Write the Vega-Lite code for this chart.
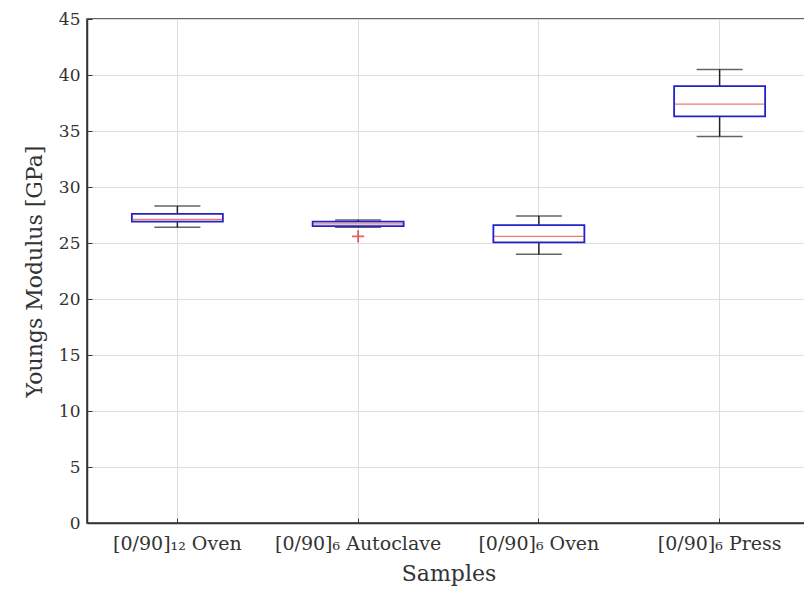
{
  "$schema": "https://vega.github.io/schema/vega-lite/v6.json",
  "autosize": "none",
  "padding": {"left": 87, "top": 19, "right": 0, "bottom": 77},
  "width": 723,
  "height": 504,
  "background": "white",
  "config": {
    "font": "DejaVu Serif",
    "view": {"stroke": "#333333", "strokeWidth": 1.5},
    "axis": {
      "labelFont": "DejaVu Serif",
      "titleFont": "DejaVu Serif",
      "labelFontSize": 17,
      "titleFontSize": 22,
      "labelColor": "#333333",
      "titleColor": "#333333",
      "titleFontWeight": "normal",
      "gridColor": "#dddddd",
      "gridWidth": 1,
      "domainColor": "#333333",
      "domainWidth": 1.5,
      "tickColor": "#333333",
      "tickSize": -5
    }
  },
  "datasets": {
    "boxes": [
      {"sample": "[0/90]₁₂ Oven", "lower": 26.4, "q1": 26.9, "median": 27.1, "q3": 27.6, "upper": 28.3},
      {"sample": "[0/90]₆ Autoclave", "lower": 26.4, "q1": 26.5, "median": 26.7, "q3": 26.9, "upper": 27.05},
      {"sample": "[0/90]₆ Oven", "lower": 24.0, "q1": 25.05, "median": 25.6, "q3": 26.6, "upper": 27.4},
      {"sample": "[0/90]₆ Press", "lower": 34.5, "q1": 36.3, "median": 37.4, "q3": 39.0, "upper": 40.5}
    ],
    "outliers": [
      {"sample": "[0/90]₆ Autoclave", "value": 25.6}
    ]
  },
  "data": {"name": "boxes"},
  "encoding": {
    "x": {
      "field": "sample",
      "type": "nominal",
      "sort": null,
      "title": "Samples",
      "scale": {"paddingInner": 0, "paddingOuter": 0},
      "axis": {"labelAngle": 0, "grid": true, "labelPadding": 16, "labelFontSize": 19, "titlePadding": 10}
    }
  },
  "layer": [
    {
      "mark": {"type": "rule", "color": "#222222", "strokeWidth": 1.5},
      "encoding": {
        "y": {
          "field": "lower",
          "type": "quantitative",
          "title": "Youngs Modulus [GPa]",
          "scale": {"domain": [0, 45], "nice": false},
          "axis": {"values": [0, 5, 10, 15, 20, 25, 30, 35, 40, 45], "grid": true, "labelPadding": 12, "titlePadding": 12}
        },
        "y2": {"field": "upper"}
      }
    },
    {
      "mark": {"type": "tick", "color": "#222222", "size": 46, "thickness": 1.5},
      "encoding": {"y": {"field": "upper", "type": "quantitative"}}
    },
    {
      "mark": {"type": "tick", "color": "#222222", "size": 46, "thickness": 1.5},
      "encoding": {"y": {"field": "lower", "type": "quantitative"}}
    },
    {
      "mark": {"type": "bar", "fill": "white", "stroke": "#2222cc", "strokeWidth": 1.8, "width": 91},
      "encoding": {
        "y": {"field": "q1", "type": "quantitative"},
        "y2": {"field": "q3"}
      }
    },
    {
      "mark": {"type": "tick", "color": "#e8413c", "size": 90, "thickness": 1.3},
      "encoding": {"y": {"field": "median", "type": "quantitative"}}
    },
    {
      "data": {"name": "outliers"},
      "mark": {"type": "point", "shape": "M-1,0H1M0,-1V1", "filled": false, "stroke": "#dd2222", "strokeWidth": 1.8, "size": 150},
      "encoding": {"y": {"field": "value", "type": "quantitative"}}
    }
  ]
}
